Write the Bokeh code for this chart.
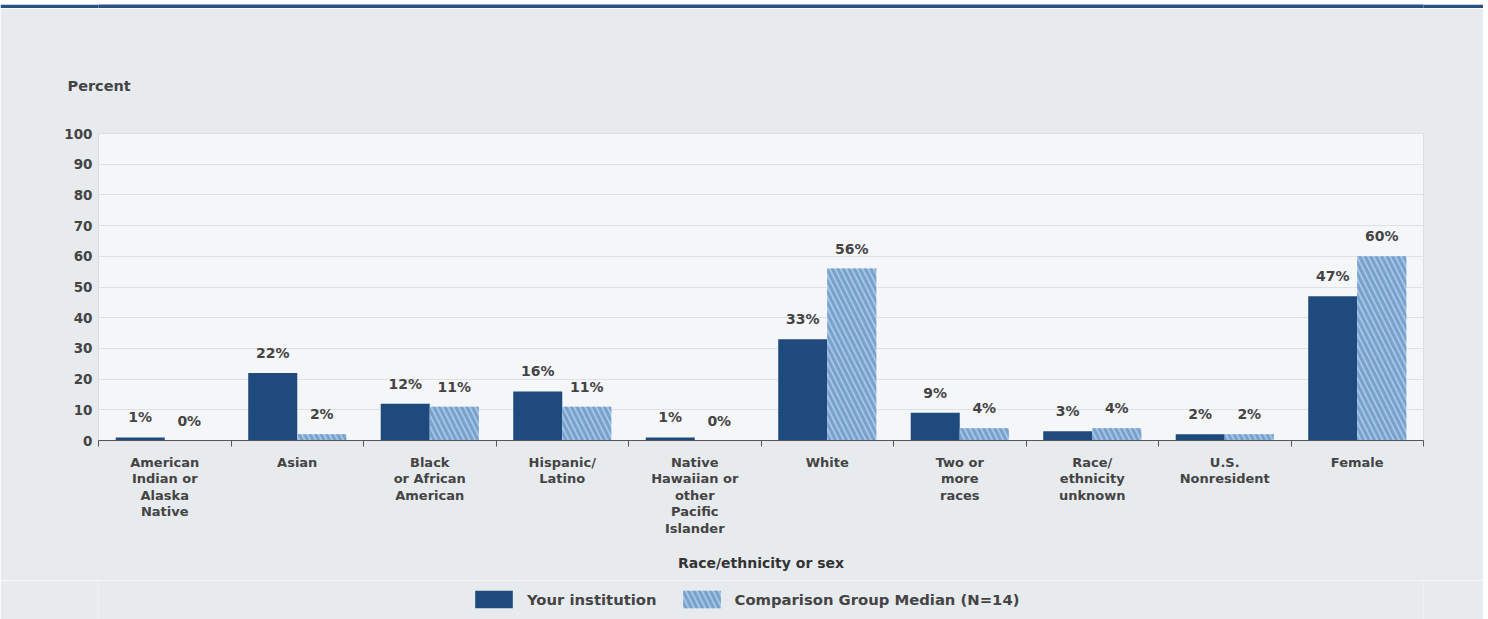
import numpy as np
from bokeh.plotting import figure
from bokeh.models import ColumnDataSource, FixedTicker, Legend, LegendItem
from bokeh.layouts import column
from bokeh.embed import file_html
from bokeh.resources import INLINE
from bokeh.core.properties import value

categories = ["American\nIndian or\nAlaska\nNative", "Asian", "Black\nor African\nAmerican",
              "Hispanic/\nLatino", "Native\nHawaiian or\nother\nPacific\nIslander", "White",
              "Two or\nmore\nraces", "Race/\nethnicity\nunknown", "U.S.\nNonresident", "Female"]
your_institution = [1, 22, 12, 16, 1, 33, 9, 3, 2, 47]
comparison_median = [0, 2, 11, 11, 0, 56, 4, 4, 2, 60]
y_ticks = [0, 10, 20, 30, 40, 50, 60, 70, 80, 90, 100]
series_names = ["Your institution", "Comparison Group Median (N=14)"]

NAVY = "#1f4a7d"
LIGHT = "#a3c5e6"
HATCH = "#7aa1cc"
PANEL = "#e8ebee"
FRAME = "#f5f6f7"
TOPBAR = "#2b5182"
FONT = "DejaVu Sans"
TXT = "#444444"
W = 1483

n = len(categories)
centers = np.arange(n) + 0.5
bw = 0.37

bar1_style = dict(fill_color=NAVY, line_color=None)
bar2_style = dict(fill_color=LIGHT, line_color=None, hatch_pattern="\\",
                  hatch_color=HATCH, hatch_weight=3, hatch_scale=11)

src1 = ColumnDataSource(dict(x=centers - bw / 2, top=your_institution,
                             lab=[f"{v}%" for v in your_institution]))
src2 = ColumnDataSource(dict(x=centers + bw / 2, top=comparison_median,
                             lab=[f"{v}%" for v in comparison_median]))


def strip(height, fill):
    f = figure(width=W, height=height, x_range=(0, 1), y_range=(0, 1),
               output_backend="svg", toolbar_location=None, title_location=None,
               min_border_left=0, min_border_right=0, min_border_top=0, min_border_bottom=0)
    f.axis.visible = False
    f.grid.visible = False
    f.background_fill_color = fill
    f.border_fill_color = fill
    f.outline_line_color = None
    return f


# ---- top navy strip -------------------------------------------------------
top = strip(8, TOPBAR)

# ---- main chart -----------------------------------------------------------
p = figure(width=W, height=572, x_range=(0, n), y_range=(0, 100),
           output_backend="svg", toolbar_location=None,
           min_border_left=98, min_border_right=60, min_border_top=125, min_border_bottom=140)
p.background_fill_color = FRAME
p.border_fill_color = PANEL
p.outline_line_color = "#dcdfe2"

p.title.text = "Percent"
p.title.align = "left"
p.title.offset = -31
p.title.standoff = 80
p.title.text_font = FONT
p.title.text_font_size = "14.5px"
p.title.text_font_style = "bold"
p.title.text_color = TXT

p.vbar(x="x", top="top", width=bw, source=src1, **bar1_style)
p.vbar(x="x", top="top", width=bw, source=src2, **bar2_style)

for s in (src1, src2):
    p.text(x="x", y="top", text="lab", source=s, text_align="center", text_baseline="middle",
           y_offset=-20, text_font=value(FONT), text_font_size="14px",
           text_font_style="bold", text_color=TXT)

p.yaxis.ticker = FixedTicker(ticks=y_ticks)
p.yaxis.axis_line_color = None
p.yaxis.major_tick_line_color = None
p.yaxis.minor_tick_line_color = None
p.yaxis.major_tick_out = 0
p.yaxis.major_label_standoff = 6
p.yaxis.major_label_text_font = FONT
p.yaxis.major_label_text_font_size = "13.5px"
p.yaxis.major_label_text_font_style = "bold"
p.yaxis.major_label_text_color = TXT
p.ygrid.ticker = FixedTicker(ticks=y_ticks)
p.ygrid.grid_line_color = "#dfe2e5"
p.xgrid.grid_line_color = None

p.xaxis.ticker = FixedTicker(ticks=list(centers), minor_ticks=list(range(n + 1)))
p.xaxis.major_label_overrides = {float(c): lab for c, lab in zip(centers, categories)}
p.xaxis.major_tick_line_color = None
p.xaxis.major_tick_out = 6
p.xaxis.major_tick_in = 0
p.xaxis.minor_tick_line_color = "#555555"
p.xaxis.minor_tick_out = 6
p.xaxis.minor_tick_in = 0
p.xaxis.axis_line_color = "#555555"
p.xaxis.major_label_standoff = 8
p.xaxis.major_label_text_font = FONT
p.xaxis.major_label_text_font_size = "13px"
p.xaxis.major_label_text_font_style = "bold"
p.xaxis.major_label_text_line_height = 1.1
p.xaxis.major_label_text_color = TXT
p.xaxis.axis_label = "Race/ethnicity or sex"
p.xaxis.axis_label_text_font = FONT
p.xaxis.axis_label_text_font_size = "14px"
p.xaxis.axis_label_text_font_style = "bold"
p.xaxis.axis_label_text_color = "#333333"
p.xaxis.axis_label_standoff = 16

# ---- legend strip ---------------------------------------------------------
lg = strip(39, PANEL)
dummy = dict(x=[-5.0], top=[0.0])
l1 = lg.vbar(x="x", top="top", width=0.1, source=ColumnDataSource(dummy), **bar1_style)
l2 = lg.vbar(x="x", top="top", width=0.1, source=ColumnDataSource(dummy), **bar2_style)
legend = Legend(items=[LegendItem(label=series_names[0], renderers=[l1]),
                       LegendItem(label=series_names[1], renderers=[l2])],
                orientation="horizontal", location=(372, 9),
                glyph_width=47, glyph_height=22, label_standoff=10, spacing=21,
                margin=0, padding=0, background_fill_alpha=0, border_line_color=None,
                label_text_font=FONT, label_text_font_size="14.8px",
                label_text_font_style="bold", label_text_color=TXT)
lg.add_layout(legend, "center")

layout = column(top, p, lg, spacing=0)
open("out.html", "w").write(file_html(layout, INLINE))
